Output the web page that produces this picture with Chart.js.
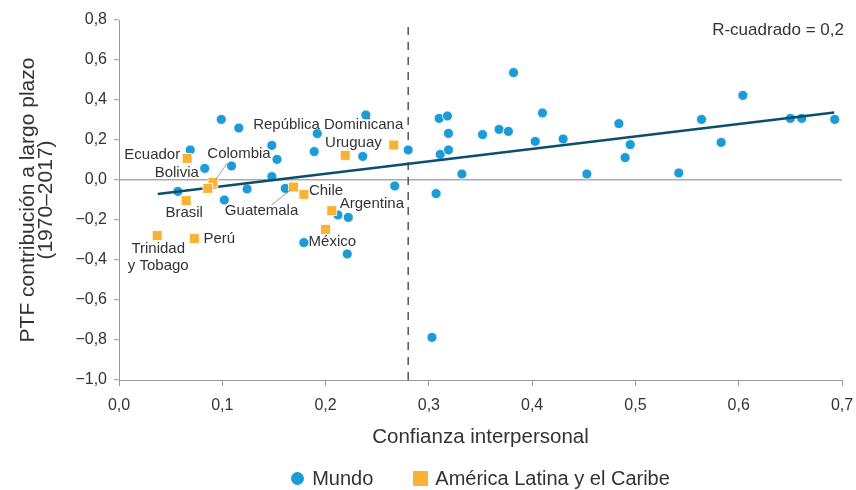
<!DOCTYPE html>
<html lang="es">
<head>
<meta charset="utf-8">
<title>Confianza interpersonal y contribución de la PTF</title>
<script src="https://cdn.jsdelivr.net/npm/chart.js@4.4.1/dist/chart.umd.min.js"></script>
<style>
  body { margin: 0; background: #fff; }
  #wrap { position: relative; width: 856px; height: 490px; }
  #legend {
    position: absolute; top: 466px; display: flex; justify-content: center; align-items: center;
    font: 20px 'Liberation Sans', Arial, sans-serif; line-height: 24px; color: #333;
  }
  #legend .item { display: flex; align-items: center; }
  #legend .item + .item { margin-left: 40px; }
  #legend .mark.circle { width: 13px; height: 13px; border-radius: 50%; margin-right: 8px; }
  #legend .mark.rect { width: 15px; height: 15px; margin-right: 7px; }
</style>
</head>
<body>
<div id="wrap">
  <canvas id="chart"></canvas>
  <div id="legend"></div>
</div>
<script>
// valores
const mundoX = [0.099, 0.116, 0.069, 0.083, 0.109, 0.148, 0.153, 0.148, 0.192, 0.189,
                0.239, 0.236, 0.280, 0.057, 0.124, 0.102, 0.161, 0.267, 0.212, 0.222,
                0.179, 0.221, 0.310, 0.318, 0.319, 0.311, 0.319, 0.332, 0.307, 0.352,
                0.368, 0.377, 0.382, 0.403, 0.410, 0.430, 0.453, 0.484, 0.495, 0.490,
                0.542, 0.564, 0.583, 0.604, 0.650, 0.661, 0.693, 0.303];
const mundoY = [0.303, 0.260, 0.150, 0.058, 0.070, 0.173, 0.103, 0.017, 0.232, 0.142,
                0.325, 0.118, 0.150, -0.057, -0.045, -0.100, -0.042, -0.030, -0.175, -0.187,
                -0.313, -0.370, 0.308, 0.320, 0.233, 0.128, 0.150, 0.030, -0.068, 0.227,
                0.253, 0.243, 0.537, 0.193, 0.335, 0.205, 0.030, 0.282, 0.177, 0.112,
                0.035, 0.303, 0.188, 0.423, 0.308, 0.308, 0.303, -0.787];

const latamNames = ['Ecuador', 'Colombia', 'Bolivia', 'Brasil', 'Trinidad y Tobago', 'Perú',
                    'Guatemala', 'Chile', 'Argentina', 'México', 'Uruguay', 'República Dominicana'];
const latamX = [0.066, 0.091, 0.086, 0.065, 0.037, 0.073, 0.169, 0.179, 0.206, 0.200, 0.266, 0.219];
const latamY = [0.108, -0.012, -0.042, -0.103, -0.278, -0.293, -0.035, -0.072, -0.153, -0.247, 0.175, 0.123];

const trendX = [0.0375, 0.6925];
const trendY = [-0.070, 0.338];
const umbral = 0.28;
const rCuadrado = 0.2;

const xMin = 0, xMax = 0.7, xStep = 0.1;
const yMin = -1, yMax = 0.8, yStep = 0.2;

const BLUE = '#1b9bd7';
const ORANGE = '#f9b233';
const TEAL = '#0d4e6a';
const AXIS = '#999';
const FONT = "'Liberation Sans', Arial, sans-serif";

Chart.defaults.font.family = FONT;
Chart.defaults.color = '#333';

const toPoints = (xs, ys) => xs.map((x, i) => ({ x, y: ys[i] }));

function fmt(v) {
    const s = Math.abs(v) < 1e-9 ? '0,0' : v.toFixed(1).replace('.', ',');
    return s.replace('-', '\u2212');
}

// dónde va cada etiqueta de país respecto a su punto (px)
const labelPlacement = {
    'Ecuador': { dx: -7, dy: -4, align: 'right' },
    'Colombia': { dx: 26, dy: -29, align: 'center', lead: [14, -19] },
    'Bolivia': { dx: -9, dy: -16, align: 'right' },
    'Brasil': { dx: -2, dy: 12, align: 'center' },
    'Trinidad y Tobago': { dx: 1, dy: 13, align: 'center', lines: ['Trinidad', 'y Tobago'] },
    'Perú': { dx: 9, dy: 0, align: 'left' },
    'Guatemala': { dx: -32, dy: 24, align: 'center', lead: [-22, 18] },
    'Chile': { dx: 5, dy: -4, align: 'left' },
    'Argentina': { dx: 8, dy: -7, align: 'left' },
    'México': { dx: -17, dy: 12, align: 'left' },
    'Uruguay': { dx: -12, dy: -2, align: 'right' },
    'República Dominicana': { dx: -17, dy: -31, align: 'center' }
};

const countryLabels = {
    id: 'countryLabels',
    afterDatasetsDraw(chart) {
        const idx = chart.data.datasets.findIndex(d => d.label === 'América Latina y el Caribe');
        const meta = chart.getDatasetMeta(idx);
        const ctx = chart.ctx;
        ctx.save();
        ctx.font = '15px ' + FONT;
        ctx.fillStyle = '#333';
        ctx.textBaseline = 'middle';
        meta.data.forEach((pt, i) => {
            const p = labelPlacement[latamNames[i]];
            if (!p) return;
            if (p.lead) {
                ctx.strokeStyle = '#888';
                ctx.lineWidth = 0.8;
                ctx.beginPath();
                ctx.moveTo(pt.x + p.lead[0], pt.y + p.lead[1]);
                ctx.lineTo(pt.x + Math.sign(p.lead[0]) * 3, pt.y + Math.sign(p.lead[1]) * 3);
                ctx.stroke();
            }
            ctx.textAlign = p.align;
            const lines = p.lines || [latamNames[i]];
            lines.forEach((t, k) => ctx.fillText(t, pt.x + p.dx, pt.y + p.dy + k * 17));
        });
        ctx.restore();
    }
};

const rSquaredNote = {
    id: 'rSquaredNote',
    afterDraw(chart) {
        const { ctx, chartArea } = chart;
        ctx.save();
        ctx.font = '17px ' + FONT;
        ctx.fillStyle = '#333';
        ctx.textAlign = 'right';
        ctx.textBaseline = 'middle';
        ctx.fillText('R-cuadrado = ' + fmt(rCuadrado), chartArea.right + 2, chartArea.top + 10);
        ctx.restore();
    }
};

const htmlLegend = {
    id: 'htmlLegend',
    afterUpdate(chart) {
        const box = document.getElementById('legend');
        box.innerHTML = '';
        box.style.left = chart.chartArea.left + 'px';
        box.style.width = (chart.chartArea.right - chart.chartArea.left) + 'px';
        chart.data.datasets.filter(d => d.inLegend).forEach(d => {
            const item = document.createElement('span');
            item.className = 'item';
            const mark = document.createElement('span');
            mark.className = 'mark ' + d.pointStyle;
            mark.style.background = d.backgroundColor;
            item.append(mark, document.createTextNode(d.label));
            box.append(item);
        });
    }
};

new Chart(document.getElementById('chart'), {
    type: 'scatter',
    data: {
        datasets: [
            {
                label: 'Mundo',
                inLegend: true,
                data: toPoints(mundoX, mundoY),
                pointStyle: 'circle',
                pointRadius: 5,
                backgroundColor: BLUE,
                borderColor: '#fff',
                borderWidth: 0.8,
                order: 2
            },
            {
                label: 'América Latina y el Caribe',
                inLegend: true,
                data: toPoints(latamX, latamY),
                pointStyle: 'rect',
                pointRadius: 7,
                backgroundColor: ORANGE,
                borderColor: '#fff',
                borderWidth: 0.8,
                order: 0
            },
            {
                label: 'Tendencia',
                data: toPoints(trendX, trendY),
                showLine: true,
                borderColor: TEAL,
                borderWidth: 2.5,
                pointRadius: 0,
                order: 1
            },
            {
                label: 'Umbral',
                data: [{ x: umbral, y: yMin }, { x: umbral, y: yMax }],
                showLine: true,
                borderColor: '#555',
                borderWidth: 1.5,
                borderDash: [8, 7],
                pointRadius: 0,
                order: 3
            }
        ]
    },
    options: {
        responsive: true,
        maintainAspectRatio: false,
        animation: false,
        layout: { padding: { top: 20, right: 14, bottom: 40, left: 0 } },
        plugins: {
            legend: { display: false },
            tooltip: { enabled: false }
        },
        scales: {
            x: {
                type: 'linear',
                min: xMin,
                max: xMax,
                afterFit: s => {
                    s.height = 70;
                    s.paddingLeft = 0;
                    s.paddingRight = 0;
                },
                ticks: { stepSize: xStep, callback: fmt, font: { size: 16 }, color: '#333', padding: 10 },
                grid: { drawOnChartArea: false, tickLength: 6, tickColor: AXIS },
                border: { color: AXIS },
                title: {
                    display: true,
                    text: 'Confianza interpersonal',
                    font: { size: 20.5 },
                    color: '#333',
                    padding: { top: 0, bottom: 0 }
                }
            },
            y: {
                type: 'linear',
                min: yMin,
                max: yMax,
                afterFit: s => { s.width = 119; },
                ticks: { stepSize: yStep, callback: fmt, font: { size: 16 }, color: '#333', padding: 7 },
                grid: {
                    color: c => (c.tick && Math.abs(c.tick.value) < 1e-9 ? '#aaa' : 'rgba(0,0,0,0)'),
                    lineWidth: 1.5,
                    tickWidth: 1,
                    tickLength: 5,
                    tickColor: AXIS
                },
                border: { color: AXIS },
                title: {
                    display: true,
                    text: ['PTF contribución a largo plazo', '(1970–2017)'],
                    font: { size: 21, lineHeight: 0.85 },
                    color: '#333',
                    padding: { top: 19, bottom: 0 }
                }
            }
        }
    },
    plugins: [countryLabels, rSquaredNote, htmlLegend]
});
</script>
</body>
</html>
